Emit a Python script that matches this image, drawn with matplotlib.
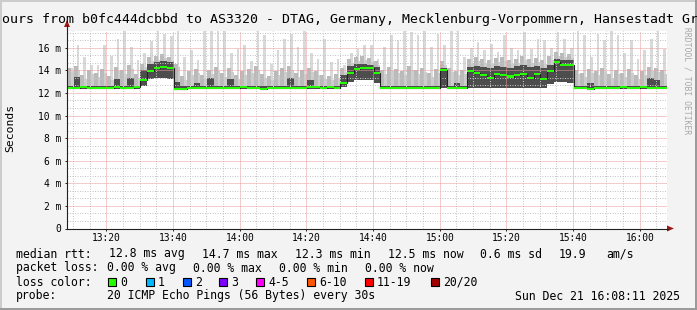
import numpy as np
import matplotlib.pyplot as plt
from matplotlib.patches import Rectangle, Polygon
from matplotlib.lines import Line2D

plt.rcParams['font.family'] = 'DejaVu Sans Mono'

# 2 minute bins, starting 13:08 (minutes after midnight)
bin_start = 788.2 + 2 * np.arange(90)

median_ms = [12.45, 12.45, 12.5, 12.45, 12.45, 12.4, 12.45, 12.5, 12.45, 12.45, 12.55,
             13.1, 13.9, 14.2, 14.25, 14.2,
             12.35, 12.35, 12.4, 12.45, 12.45, 12.45,
             12.45, 12.45, 12.45, 12.45, 12.5, 12.45, 12.45, 12.35,
             12.4, 12.45, 12.45, 12.45, 12.45, 12.45, 12.55, 12.5, 12.45, 12.5, 12.45,
             12.85,
             13.8, 14.1, 14.2, 14.2, 13.8,
             12.45, 12.45, 12.4, 12.45, 12.45, 12.45, 12.45, 12.45, 12.45,
             14.0,
             12.45, 12.45, 12.45,
             13.9, 13.75, 13.6, 13.3, 13.7, 13.55, 13.45, 13.6, 13.7, 13.35, 13.7, 13.2, 13.9, 14.7, 14.45, 14.5,
             12.45, 12.45, 12.35, 12.4, 12.45, 12.45, 12.45, 12.5, 12.45, 12.45, 12.5, 12.45, 12.45, 12.45]

# bottom of the smoke
smoke_lo = [12.35] * 11 + [12.6, 13.2, 13.3, 13.3, 13.2] + [12.35] * 25 + [12.5] \
    + [13.0, 13.1, 13.1, 13.1, 12.9] + [12.35] * 9 + [12.4] + [12.35] * 3 \
    + [12.4] * 12 + [12.8, 13.0, 13.0, 12.9] + [12.35] * 14

# top of the dark band
smoke_dark = [12.6, 13.4, 12.6, 12.6, 12.6, 12.6, 12.6, 13.2, 12.6, 13.3, 12.6,
              14.0, 14.6, 14.7, 14.8, 14.7,
              13.0, 12.6, 12.6, 12.9, 12.6, 13.3,
              12.6, 12.6, 13.2, 12.6, 12.6, 12.6, 12.6, 12.6,
              12.6, 12.6, 12.6, 13.3, 12.6, 12.6, 13.1, 12.6, 12.6, 12.6, 12.6,
              13.6,
              14.4, 14.6, 14.6, 14.5, 14.3,
              12.6, 12.6, 12.6, 12.6, 12.6, 12.6, 12.6, 12.6, 12.6,
              14.2,
              12.6, 12.9, 12.6,
              14.3, 14.4, 14.3, 14.2, 14.4, 14.3, 14.2, 14.4, 14.5, 14.3, 14.4, 14.2, 14.5, 15.0, 14.9, 14.9,
              12.6, 12.6, 12.9, 12.6, 12.6, 12.6, 12.6, 12.6, 12.6, 12.6, 12.6, 13.3, 13.1, 12.6]

# top of the mid grey smoke
smoke_mid = [14.2, 14.4, 13.6, 14.0, 13.8, 14.1, 13.5, 14.3, 14.0, 14.5, 13.7,
             14.6, 15.2, 15.3, 15.4, 15.2,
             14.6, 13.5, 13.9, 14.1, 13.6, 14.0,
             14.3, 13.8, 14.2, 13.6, 13.9, 14.1, 14.4, 13.7,
             13.5, 13.9, 14.2, 14.4, 13.8, 14.0, 14.2, 13.9, 13.6, 13.5, 13.7,
             14.2,
             15.0, 15.2, 15.3, 15.1, 14.8,
             14.0, 14.3, 14.1, 13.9, 14.4, 14.0, 14.2, 13.8, 14.1,
             14.8,
             14.2, 13.9, 14.0,
             15.0, 15.2, 15.0, 14.9, 15.1, 15.2, 14.9, 15.0, 15.3, 15.0, 15.1, 14.9, 15.3, 15.6, 15.5, 15.4,
             14.0, 13.8, 14.1, 13.9, 14.2, 13.7, 14.0, 13.8, 14.1, 13.6, 13.9, 14.3, 14.2, 14.0]

# highest ping in the bin
smoke_max = [14.2, 16.2, 15.2, 14.5, 14.5, 16.2, 15.3, 16.8, 17.6, 16.1, 14.9,
             15.5, 16.6, 17.6, 17.2, 17.0,
             17.6, 15.2, 15.8, 14.9, 17.6, 17.6,
             17.6, 17.6, 15.5, 15.9, 16.2, 14.8, 17.6, 17.1,
             14.6, 15.8, 16.8, 17.25, 16.1, 17.6, 15.5, 15.0, 16.8, 14.75, 15.0,
             14.45,
             15.5, 15.9, 16.2, 16.2, 15.0,
             16.1, 17.1, 16.7, 17.6, 17.4, 17.1, 17.6, 16.1, 17.25,
             16.2,
             17.6, 17.6, 15.2,
             16.0, 16.5, 15.8, 16.3, 15.6, 17.1, 16.0, 15.8, 17.4, 15.9, 16.8, 16.7, 16.0, 17.4, 16.8, 16.0,
             17.6, 17.1, 15.2, 17.25, 16.7, 17.6, 17.1, 15.5, 16.7, 15.0, 15.8, 16.8, 17.6, 15.9]

x_ticks = [800, 820, 840, 860, 880, 900, 920, 940, 960]
x_labels = ['13:20', '13:40', '14:00', '14:20', '14:40', '15:00', '15:20', '15:40', '16:00']
y_ticks = [0, 2, 4, 6, 8, 10, 12, 14, 16]
y_labels = ['0', '2 m', '4 m', '6 m', '8 m', '10 m', '12 m', '14 m', '16 m']

loss_names = ['0', '1', '2', '3', '4-5', '6-10', '11-19', '20/20']
loss_colors = ['#26ff00', '#00b8ff', '#0059ff', '#7e00ff', '#ff00ff', '#ff5500', '#ff0000', '#a10000']

median_ms = np.array(median_ms)
smoke_lo = np.array(smoke_lo)
smoke_dark = np.array(smoke_dark)
smoke_mid = np.array(smoke_mid)
smoke_max = np.array(smoke_max)
edges = np.append(bin_start, bin_start[-1] + 2)

W, H = 697, 310
fig = plt.figure(figsize=(W / 100, H / 100), dpi=100, facecolor='#f3f3f3')
ax = fig.add_axes([67 / W, 1 - 228.5 / H, 600 / W, 197.75 / H])
ax.set_facecolor('white')
for s in ax.spines.values():
    s.set_visible(False)

# smoke
ax.bar(bin_start + 1.3, smoke_max - smoke_lo, bottom=smoke_lo, width=0.8,
       color='#d9d9d9', lw=0, zorder=1)
ax.bar(bin_start + 0.6, smoke_mid - smoke_lo, bottom=smoke_lo, width=1.2,
       color='#bababa', lw=0, zorder=1.1)
ax.stairs(smoke_mid - 0.35, edges, baseline=smoke_lo, fill=True, color='#cdcdcd', lw=0, zorder=1.05)
ax.stairs(smoke_dark, edges, baseline=smoke_lo, fill=True, color='#4d4d4d', lw=0, zorder=1.2)

# median
ax.stairs(median_ms, edges, baseline=None, color='#202020', lw=0.8, zorder=3)
ax.stairs(median_ms + 0.09, edges, baseline=median_ms - 0.09, fill=True,
          color='#26ff00', lw=0, zorder=3.1)

ax.set_xlim(788.183, 968.183)
ax.set_ylim(0, 17.5)
ax.set_xticks(x_ticks)
ax.set_xticklabels(x_labels)
ax.set_xticks(np.arange(790, 968, 5), minor=True)
ax.set_yticks(y_ticks)
ax.set_yticklabels(y_labels)
ax.set_yticks(np.arange(0, 17.5, 2 / 3), minor=True)
ax.tick_params(which='both', labelsize=6.9, color='#202020', width=0.7)
ax.tick_params(axis='y', which='major', length=1.5, pad=3)
ax.tick_params(axis='x', which='major', length=1.5, pad=2)
ax.tick_params(which='minor', length=0)
ax.set_axisbelow(False)
ax.grid(which='minor', color='#c4c4c4', lw=0.72, ls=(0, (1, 1.5)))
ax.grid(which='major', color='#ec9a9a', lw=0.72, ls=(0, (1, 1)))

# overlay in pixel coordinates for the rrdtool decorations
ov = fig.add_axes([0, 0, 1, 1], zorder=5)
ov.set_xlim(0, W)
ov.set_ylim(H, 0)
ov.axis('off')
ov.patch.set_alpha(0)

# axes with arrows
ov.add_line(Line2D([67, 67], [228.5, 25], color='#202020', lw=0.8))
ov.add_line(Line2D([67, 668], [228.5, 228.5], color='#202020', lw=0.8))
ov.add_patch(Polygon([[64, 27], [70, 27], [67, 20]], closed=True, color='#a01818', lw=0))
ov.add_patch(Polygon([[667, 225.5], [667, 231.5], [674, 228.5]], closed=True, color='#a01818', lw=0))

# frame shading
ov.add_line(Line2D([0.5, 0.5], [0, H], color='#cbcbcb', lw=1.4))
ov.add_line(Line2D([0, W], [0.5, 0.5], color='#cbcbcb', lw=1.4))
ov.add_line(Line2D([W - 1, W - 1], [0, H], color='#999999', lw=1.4))
ov.add_line(Line2D([0, W], [H - 1, H - 1], color='#999999', lw=1.4))

ov.text(2, 22.5, 'ours from b0fc444dcbbd to AS3320 - DTAG, Germany, Mecklenburg-Vorpommern, Hansestadt Gr',
        fontsize=9.5, va='baseline', ha='left')
ov.text(10, 128, 'Seconds', fontsize=8.2, rotation=90, ha='center', va='center')
# watermark, started just under the title so the two do not collide
ov.text(687, 27, 'RRDTOOL / TOBI OETIKER', fontsize=5.8, rotation=-90, ha='center', va='top',
        color='#a8a8a8')

fs = 8.3
line1 = [('median rtt:', 16), ('12.8 ms avg', 109), ('14.7 ms max', 202), ('12.3 ms min', 295),
         ('12.5 ms now', 388), ('0.6 ms sd', 480), ('19.9', 559), ('am/s', 606)]
for s, x in line1:
    ov.text(x, 257.5, s, fontsize=fs, va='baseline')
line2 = [('packet loss:', 16), ('0.00 % avg', 107), ('0.00 % max', 193), ('0.00 % min', 279),
         ('0.00 % now', 365)]
for s, x in line2:
    ov.text(x, 271.5, s, fontsize=fs, va='baseline')
ov.text(16, 285.5, 'loss color:', fontsize=fs, va='baseline')
box_x = [108, 146, 183, 219, 256, 307, 365, 431]
for name, c, x in zip(loss_names, loss_colors, box_x):
    ov.add_patch(Rectangle((x, 278), 8, 8, facecolor=c, edgecolor='black', lw=0.8))
    ov.text(x + 12, 285.5, name, fontsize=fs, va='baseline')
ov.text(16, 299.5, 'probe:', fontsize=fs, va='baseline')
ov.text(107, 299.5, '20 ICMP Echo Pings (56 Bytes) every 30s', fontsize=fs, va='baseline')
ov.text(680, 299.5, 'Sun Dec 21 16:08:11 2025', fontsize=fs, va='baseline', ha='right')

fig.savefig('out.png', dpi=100, facecolor=fig.get_facecolor())
